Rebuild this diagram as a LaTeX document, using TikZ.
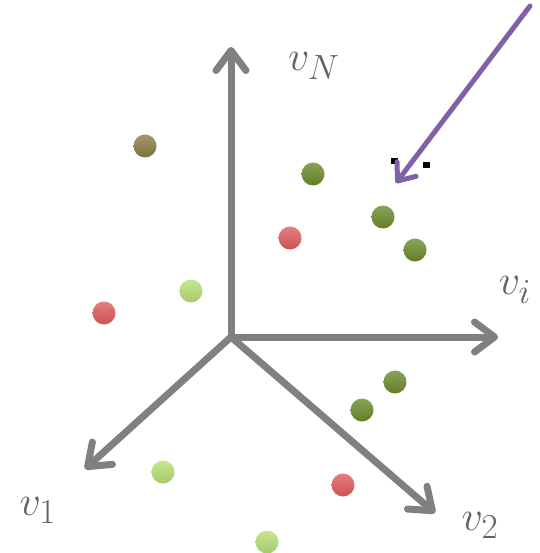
\documentclass[tikz,border=0pt]{standalone}
\usetikzlibrary{arrows.meta}
\definecolor{axisgray}{RGB}{128,128,128}
\definecolor{labgray}{RGB}{100,100,100}
\definecolor{olivedot}{RGB}{140,124,70}
\definecolor{greendot}{RGB}{108,140,44}
\definecolor{reddot}{RGB}{226,92,92}
\definecolor{lightdot}{RGB}{184,224,118}
\definecolor{arrpurple}{RGB}{128,96,166}
\tikzset{
  axis/.style={draw=axisgray, line width=7pt, line cap=round,
    -{Straight Barb[round,length=20pt,width=30pt,line width=7pt]}},
  lab/.style={text=labgray, font=\Huge, scale=1.69, inner sep=0pt},
  dot/.style={circle, minimum size=23pt, inner sep=0pt, draw=none,
    top color=#1!80!white, bottom color=#1!90!black},
  blackmark/.style={fill=black, minimum width=7pt, minimum height=6pt, inner sep=0pt},
}
\begin{document}
\begin{tikzpicture}[x=1pt,y=-1pt]
\useasboundingbox (0,0) rectangle (539,553);
\coordinate (o) at (231,337);
\coordinate (tN) at (231,47);
\coordinate (ti) at (498,337);
\coordinate (t1) at (85,469);
\coordinate (t2) at (435,513);
\draw[axis] (o) -- (tN);
\draw[axis] (o) -- (ti);
\draw[axis] (o) -- (t1);
\draw[axis] (o) -- (t2);
\node[lab] (lN) at (314,66) {$v_N$};
\node[lab] (li) at (515,290) {$v_i$};
\node[lab] (l1) at (38,510) {$v_1$};
\node[lab] (l2) at (480,525) {$v_2$};
% dots
\node[dot=olivedot] (d1) at (145,146) {};
\node[dot=greendot] (d2) at (313,174) {};
\node[dot=greendot] (d3) at (383,217) {};
\node[dot=greendot] (d4) at (415,250) {};
\node[dot=greendot] (d5) at (395,382) {};
\node[dot=greendot] (d6) at (362,410) {};
\node[dot=reddot] (d7) at (290,238) {};
\node[dot=reddot] (d8) at (104,313) {};
\node[dot=reddot] (d9) at (343,485) {};
\node[dot=lightdot] (d10) at (191,291) {};
\node[dot=lightdot] (d11) at (163,472) {};
\node[dot=lightdot] (d12) at (267,542) {};
% marks
\node[blackmark] (m1) at (394,161) {};
\node[blackmark] (m2) at (426,165) {};
% purple arrow
\coordinate (ps) at (530,6);
\coordinate (pe) at (396,183);
\draw[draw=arrpurple, line width=5pt, line cap=round,
  -{Straight Barb[round,length=15pt,width=24pt,line width=5pt]}] (ps) -- (pe);
\end{tikzpicture}
\end{document}
